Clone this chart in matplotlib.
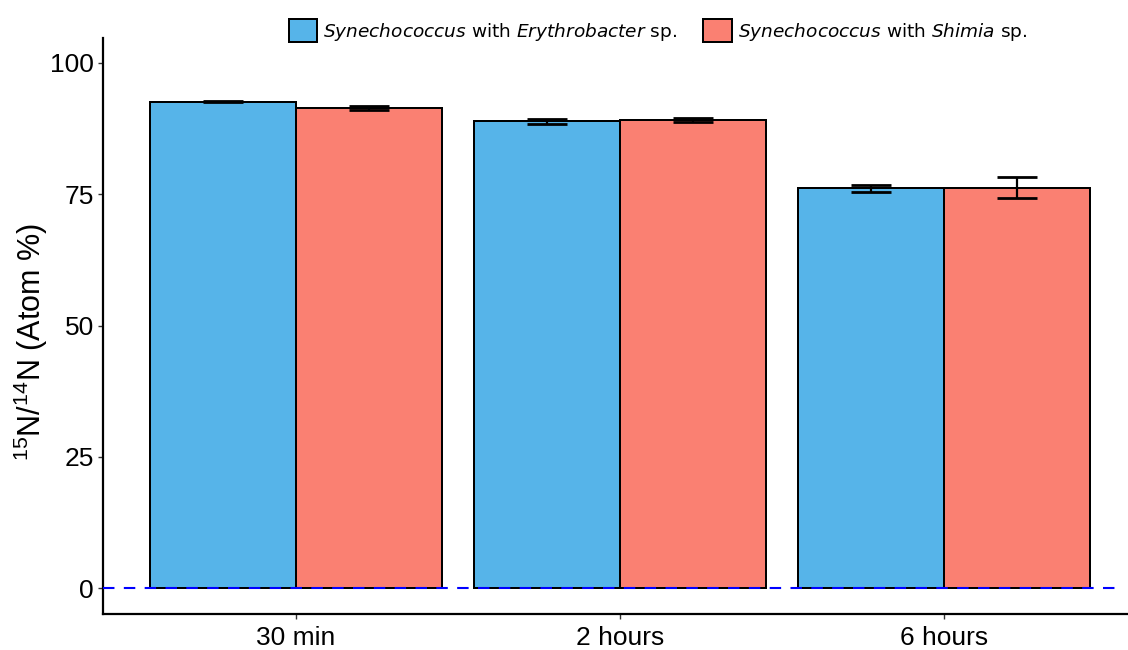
import matplotlib
matplotlib.use("Agg")
import matplotlib.pyplot as plt
from matplotlib.patches import Patch
import numpy as np

categories = ["30 min", "2 hours", "6 hours"]
ery_vals = [92.6, 88.9, 76.1]
ery_err = [0.12, 0.45, 0.7]
shi_vals = [91.5, 89.1, 76.2]
shi_err = [0.4, 0.35, 2.0]
series_labels = [r"$\it{Synechococcus}$ with $\it{Erythrobacter}$ sp.",
                 r"$\it{Synechococcus}$ with $\it{Shimia}$ sp."]
yticks = [0, 25, 50, 75, 100]

c_blue = "#56B4E9"
c_red = "#FA8072"

plt.rcParams["mathtext.fontset"] = "custom"
plt.rcParams["mathtext.rm"] = "Liberation Sans"
plt.rcParams["mathtext.it"] = "DejaVu Sans:italic"
plt.rcParams["mathtext.bf"] = "DejaVu Sans:bold"

fig = plt.figure(figsize=(11.28, 6.5), dpi=100)
ax = fig.add_axes([103/1128, 1-614/650, 1-103/1128, (614-38)/650])

x = np.arange(1, len(categories)+1)
w = 0.45
ax.bar(x - w/2, ery_vals, width=w, color=c_blue, edgecolor="black", linewidth=1.44, zorder=2)
ax.bar(x + w/2, shi_vals, width=w, color=c_red, edgecolor="black", linewidth=1.44, zorder=2)
ax.errorbar(x - w/2, ery_vals, yerr=ery_err, fmt="none", ecolor="black",
            elinewidth=1.6, capsize=14.4, capthick=2.0, zorder=3)
ax.errorbar(x + w/2, shi_vals, yerr=shi_err, fmt="none", ecolor="black",
            elinewidth=1.6, capsize=14.4, capthick=2.0, zorder=3)

ax.hlines(0, 0.404, 3.537, colors="#0000FF", linestyles=(0, (5.5, 4.5)), linewidth=1.5, zorder=4)

ax.set_xlim(0.404, 3.568)
ax.set_ylim(-4.95, 104.76)
ax.set_xticks(x)
ax.set_xticklabels(categories, fontfamily="Liberation Sans", fontsize=19)
ax.set_yticks(yticks)
ax.set_yticklabels([str(t) for t in yticks], fontfamily="Liberation Sans", fontsize=19)
ax.tick_params(axis="both", length=3.6, width=1.0, color="#333333")
ax.tick_params(axis="x", pad=5)
ax.tick_params(axis="y", pad=3)

for s in ["top", "right"]:
    ax.spines[s].set_visible(False)
for s in ["left", "bottom"]:
    ax.spines[s].set_linewidth(1.6)

ax.set_ylabel(r"$^{15}$N/$^{14}$N (Atom %)", fontfamily="Liberation Sans", fontsize=22)
ax.yaxis.set_label_coords(-0.052, (614-342)/576)

handles = [Patch(facecolor=c_blue, edgecolor="black", linewidth=1.44),
           Patch(facecolor=c_red, edgecolor="black", linewidth=1.44)]
fig.legend(handles, series_labels, loc="center", bbox_to_anchor=(658/1128, 1-31/650),
           ncol=2, frameon=False, prop={"family": "DejaVu Sans", "size": 13.3},
           handlelength=1.55, handleheight=1.55,
           handletextpad=0.33, columnspacing=1.4)

fig.savefig("out.png", dpi=100)
